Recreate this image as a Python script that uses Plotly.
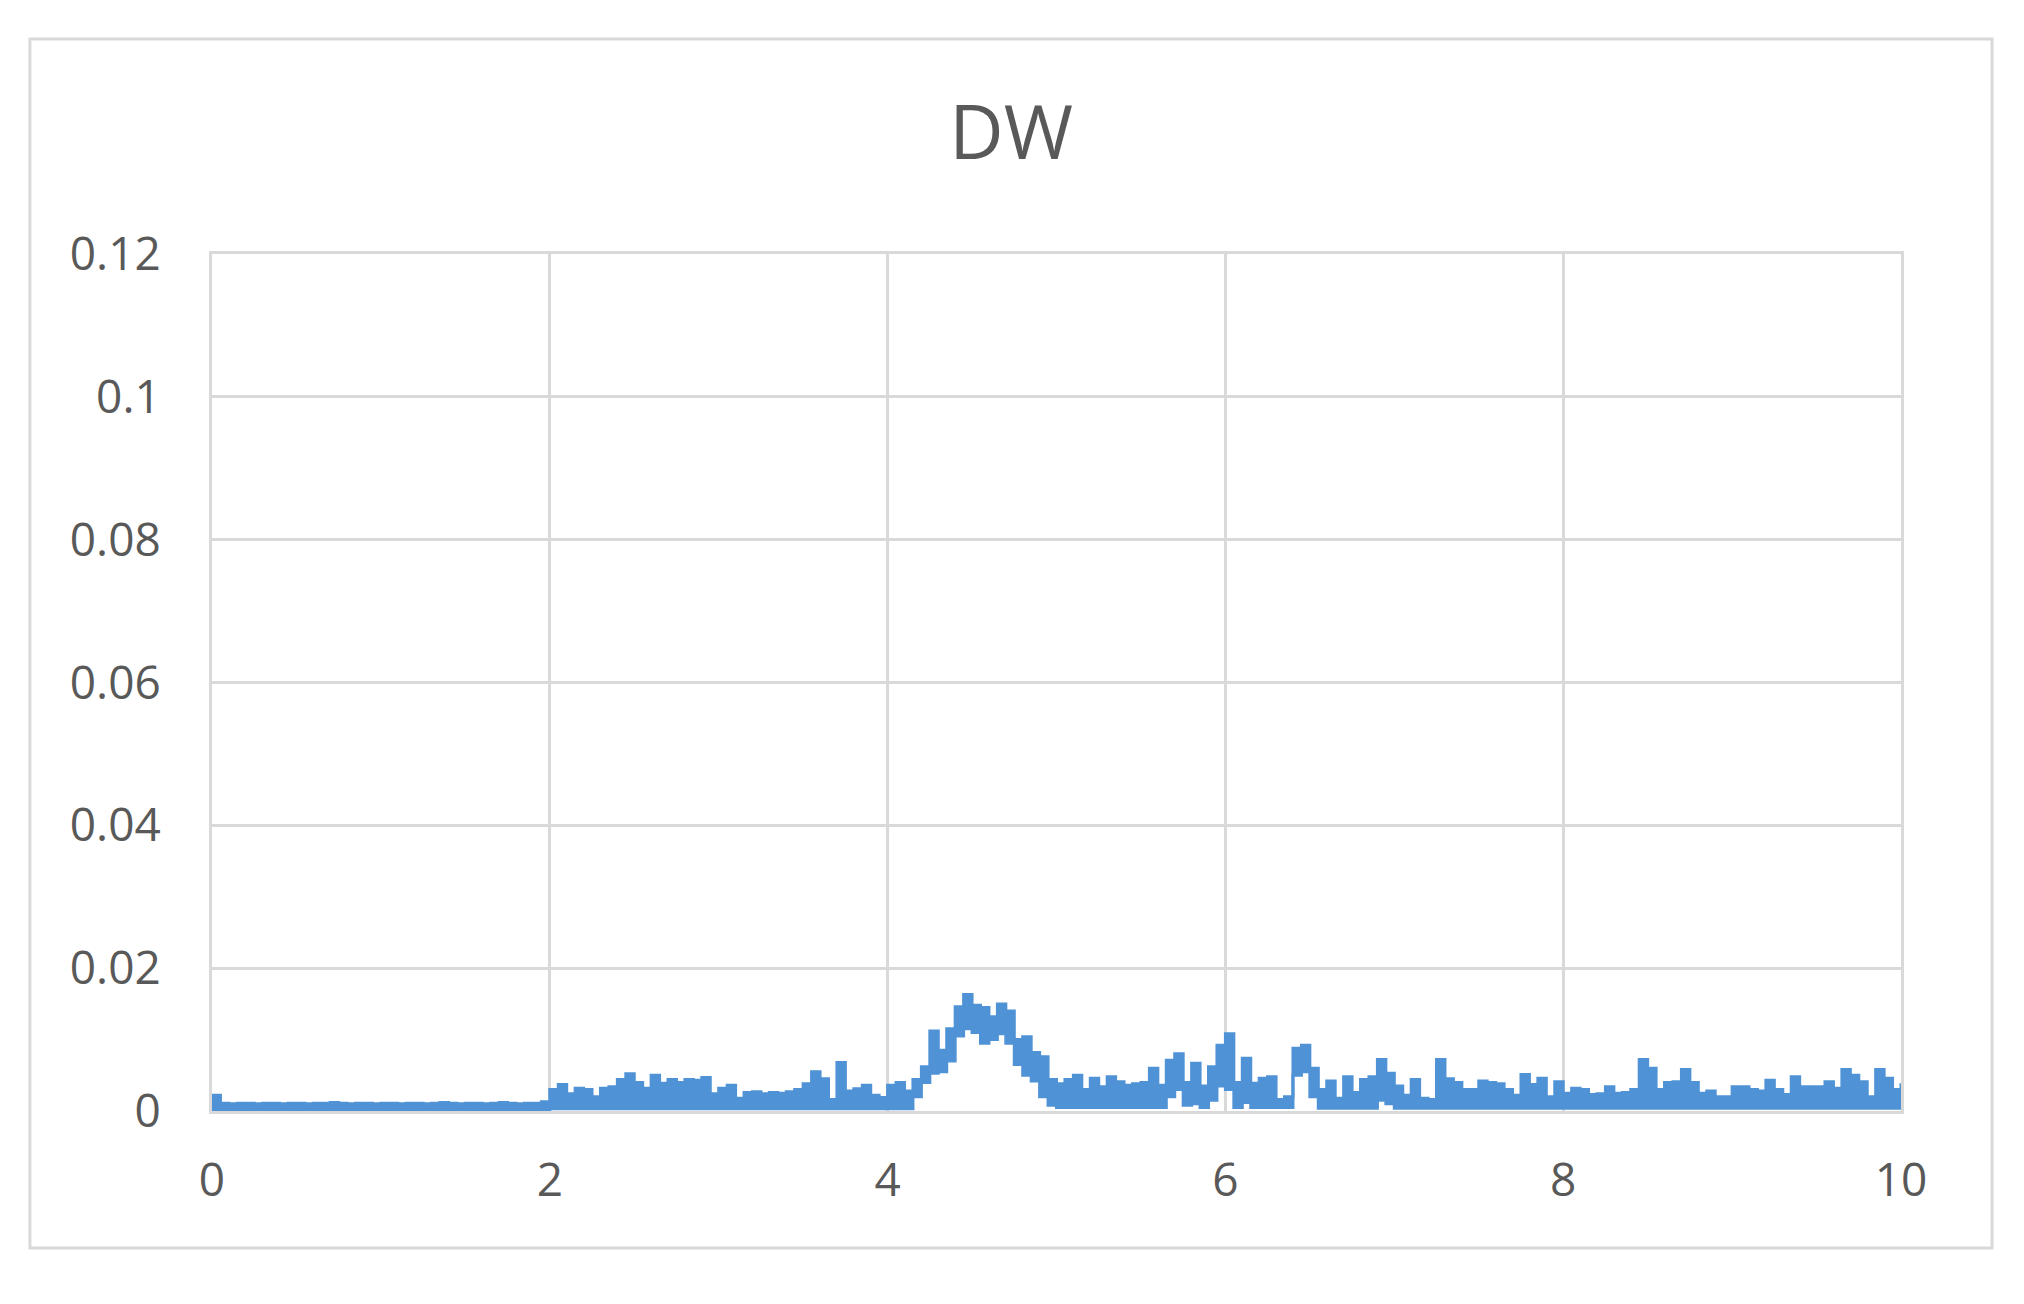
import plotly.graph_objects as go

# DW series sampled every 0.05 on x (0 .. 10); the noisy trace is drawn as an
# envelope band: upper and lower bound of the signal in each step
X_START = 0.0
X_STEP = 0.05

dw_upper = [
    0.0022, 0.0011, 0.0010, 0.0011, 0.0011, 0.0010, 0.0011, 0.0011, 0.0010, 0.0011,
    0.0011, 0.0010, 0.0011, 0.0011, 0.0012, 0.0011, 0.0010, 0.0011, 0.0011, 0.0010,
    0.0011, 0.0011, 0.0010, 0.0011, 0.0011, 0.0010, 0.0011, 0.0012, 0.0011, 0.0010,
    0.0011, 0.0011, 0.0010, 0.0011, 0.0012, 0.0011, 0.0010, 0.0011, 0.0011, 0.0013,
    0.0030, 0.0037, 0.0024, 0.0032, 0.0030, 0.0020, 0.0032, 0.0034, 0.0044, 0.0052,
    0.0040, 0.0032, 0.0050, 0.0039, 0.0044, 0.0040, 0.0044, 0.0043, 0.0047, 0.0024,
    0.0032, 0.0036, 0.0018, 0.0026, 0.0027, 0.0024, 0.0026, 0.0025, 0.0027, 0.0030,
    0.0038, 0.0055, 0.0045, 0.0016, 0.0068, 0.0028, 0.0031, 0.0036, 0.0022, 0.0019,
    0.0036, 0.0040, 0.0028, 0.0044, 0.0062, 0.0112, 0.0085, 0.0115, 0.0146, 0.0163,
    0.0148, 0.0145, 0.0132, 0.0150, 0.0140, 0.0100, 0.0104, 0.0082, 0.0076, 0.0044,
    0.0038, 0.0044, 0.0050, 0.0030, 0.0046, 0.0034, 0.0048, 0.0041, 0.0036, 0.0038,
    0.0040, 0.0060, 0.0036, 0.0071, 0.0080, 0.0040, 0.0067, 0.0035, 0.0062, 0.0092,
    0.0108, 0.0040, 0.0074, 0.0039, 0.0046, 0.0048, 0.0016, 0.0020, 0.0088, 0.0092,
    0.0060, 0.0030, 0.0042, 0.0018, 0.0048, 0.0026, 0.0044, 0.0048, 0.0072, 0.0053,
    0.0035, 0.0022, 0.0044, 0.0018, 0.0016, 0.0072, 0.0045, 0.0040, 0.0030, 0.0030,
    0.0042, 0.0040, 0.0038, 0.0030, 0.0022, 0.0051, 0.0037, 0.0046, 0.0020, 0.0041,
    0.0025, 0.0032, 0.0030, 0.0023, 0.0024, 0.0034, 0.0025, 0.0026, 0.0030, 0.0072,
    0.0060, 0.0030, 0.0040, 0.0041, 0.0058, 0.0040, 0.0025, 0.0028, 0.0020, 0.0020,
    0.0034, 0.0034, 0.0030, 0.0028, 0.0043, 0.0030, 0.0023, 0.0048, 0.0034, 0.0034,
    0.0034, 0.0041, 0.0032, 0.0058, 0.0050, 0.0041, 0.0020, 0.0058, 0.0046, 0.0030,
    0.0039,
]

dw_lower = [
    0.0002, 0.0002, 0.0002, 0.0002, 0.0002, 0.0002, 0.0002, 0.0002, 0.0002, 0.0002,
    0.0002, 0.0002, 0.0002, 0.0002, 0.0002, 0.0002, 0.0002, 0.0002, 0.0002, 0.0002,
    0.0002, 0.0002, 0.0002, 0.0002, 0.0002, 0.0002, 0.0002, 0.0002, 0.0002, 0.0002,
    0.0002, 0.0002, 0.0002, 0.0002, 0.0002, 0.0002, 0.0002, 0.0002, 0.0002, 0.0002,
    0.0003, 0.0003, 0.0003, 0.0003, 0.0003, 0.0003, 0.0003, 0.0003, 0.0003, 0.0003,
    0.0003, 0.0003, 0.0003, 0.0003, 0.0003, 0.0003, 0.0003, 0.0003, 0.0003, 0.0003,
    0.0003, 0.0003, 0.0003, 0.0003, 0.0003, 0.0003, 0.0003, 0.0003, 0.0003, 0.0003,
    0.0003, 0.0003, 0.0003, 0.0003, 0.0003, 0.0003, 0.0003, 0.0003, 0.0003, 0.0003,
    0.0003, 0.0003, 0.0003, 0.0020, 0.0040, 0.0053, 0.0055, 0.0070, 0.0105, 0.0115,
    0.0110, 0.0095, 0.0100, 0.0108, 0.0095, 0.0065, 0.0050, 0.0042, 0.0020, 0.0008,
    0.0005, 0.0005, 0.0005, 0.0005, 0.0005, 0.0005, 0.0005, 0.0005, 0.0005, 0.0005,
    0.0005, 0.0005, 0.0005, 0.0020, 0.0030, 0.0008, 0.0010, 0.0005, 0.0015, 0.0035,
    0.0030, 0.0005, 0.0012, 0.0005, 0.0005, 0.0005, 0.0005, 0.0005, 0.0050, 0.0055,
    0.0020, 0.0004, 0.0004, 0.0004, 0.0004, 0.0004, 0.0004, 0.0004, 0.0015, 0.0010,
    0.0004, 0.0004, 0.0004, 0.0004, 0.0004, 0.0004, 0.0004, 0.0004, 0.0004, 0.0004,
    0.0004, 0.0004, 0.0004, 0.0004, 0.0004, 0.0004, 0.0004, 0.0004, 0.0004, 0.0004,
    0.0004, 0.0004, 0.0004, 0.0004, 0.0004, 0.0004, 0.0004, 0.0004, 0.0004, 0.0004,
    0.0004, 0.0004, 0.0004, 0.0004, 0.0004, 0.0004, 0.0004, 0.0004, 0.0004, 0.0004,
    0.0004, 0.0004, 0.0004, 0.0004, 0.0004, 0.0004, 0.0004, 0.0004, 0.0004, 0.0004,
    0.0004, 0.0004, 0.0004, 0.0004, 0.0004, 0.0004, 0.0004, 0.0004, 0.0004, 0.0004,
    0.0004,
]

x_ticks = [0, 2, 4, 6, 8, 10]
y_ticks = [0, 0.02, 0.04, 0.06, 0.08, 0.1, 0.12]

BLUE = "#4f92d6"
GRID = "#d9d9d9"
TEXT = "#595959"
FONT = "Open Sans, sans-serif"

fig = go.Figure()
fig.add_trace(go.Scatter(
    x0=X_START, dx=X_STEP, y=dw_lower,
    mode="lines", line=dict(color=BLUE, width=3, shape="hv"),
    showlegend=False, hoverinfo="skip",
))
fig.add_trace(go.Scatter(
    x0=X_START, dx=X_STEP, y=dw_upper,
    mode="lines", line=dict(color=BLUE, width=3, shape="hv"),
    fill="tonexty", fillcolor=BLUE,
    name="DW", showlegend=False,
))

# outer chart border (Excel-style chart area frame)
fig.add_shape(
    type="rect", xref="paper", yref="paper",
    x0=-0.1078, x1=1.0539, y0=-0.1600, y1=1.2509,
    line=dict(color=GRID, width=3), fillcolor="rgba(0,0,0,0)", layer="below",
)

fig.update_layout(
    width=2024, height=1304,
    paper_bgcolor="white", plot_bgcolor="white",
    margin=dict(l=204, r=131, t=246, b=201),
    font=dict(family=FONT, color=TEXT, size=46),
    title=dict(text="DW", x=0.4956, xref="container", y=0.904, yref="container",
               xanchor="center", yanchor="middle",
               font=dict(family=FONT, size=75, color=TEXT)),
    xaxis=dict(
        range=[0, 10], tickvals=x_ticks, showgrid=True, gridcolor=GRID, gridwidth=3,
        showline=True, linecolor=GRID, linewidth=3, mirror=True, zeroline=False,
        ticks="outside", ticklen=27, tickcolor="rgba(0,0,0,0)",
    ),
    yaxis=dict(
        range=[0, 0.12], tickvals=y_ticks, showgrid=True, gridcolor=GRID, gridwidth=3,
        showline=True, linecolor=GRID, linewidth=3, mirror=True, zeroline=False,
        ticks="outside", ticklen=39, tickcolor="rgba(0,0,0,0)",
    ),
)

fig.write_html("out.html")
